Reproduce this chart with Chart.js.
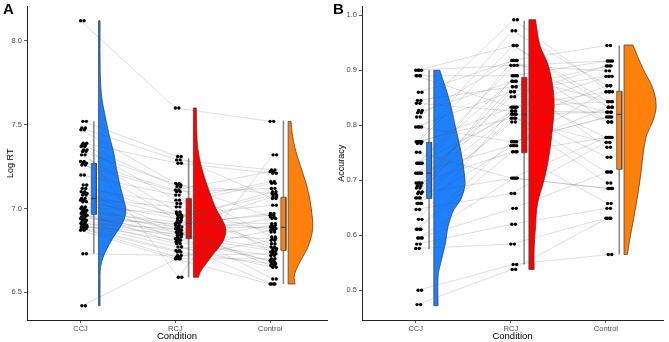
<!DOCTYPE html>
<html>
<head>
<meta charset="utf-8">
<script src="https://cdn.jsdelivr.net/npm/chart.js@4.4.1/dist/chart.umd.min.js"></script>
<style>
html, body { margin: 0; padding: 0; background: #fff; }
#wrap { position: relative; width: 669px; height: 342px; overflow: hidden; font-family: "Liberation Sans", Arial, sans-serif; }
canvas { position: absolute; top: 0; }
#cA { left: 0; }
#cB { left: 331px; }
.tag { position: absolute; top: 1px; font-weight: bold; font-size: 15px; line-height: 15px; }
</style>
</head>
<body>
<div id="wrap">
  <canvas id="cA" width="331" height="342"></canvas>
  <canvas id="cB" width="338" height="342"></canvas>
  <div class="tag" style="left:3px">A</div>
  <div class="tag" style="left:333px">B</div>
</div>
<script>
const conditions = ['CCJ', 'RCJ', 'Control']

// Panel A: log RT, one entry per participant (same order in every array)
const rtCCJ = [8.12,7.52,7.48,7.47,7.39,7.38,7.37,7.35,7.34,7.32,7.28,7.27,7.26,7.20,7.14,7.12,7.10,7.09,7.08,7.06,7.05,7.04,7.01,7.00,6.99,6.98,6.97,6.96,6.96,6.95,6.94,6.93,6.92,6.91,6.90,6.90,6.89,6.89,6.88,6.88,6.87,6.73,6.42]
const rtRCJ = [7.60,7.31,7.29,7.15,7.27,7.13,7.05,6.59,7.14,6.98,7.11,6.93,7.10,7.08,6.96,7.03,6.88,6.95,6.85,7.01,6.82,6.94,6.97,6.90,6.87,6.92,6.80,6.89,6.84,6.86,6.91,6.83,6.79,6.88,6.77,6.81,6.75,6.85,6.74,6.71,6.70,6.72,6.70]
const rtControl = [7.52,7.06,7.23,6.95,7.21,6.83,7.16,7.32,7.09,6.77,7.22,6.88,7.12,6.74,7.02,7.15,6.66,7.08,6.94,6.86,6.69,7.10,6.79,6.97,6.58,6.91,6.72,7.07,6.82,6.68,6.96,6.75,6.55,6.89,6.65,6.90,6.87,6.76,6.67,6.81,6.55,6.73,6.70]

// box summaries (CCJ, RCJ, Control)
const rtLow = [6.73, 6.59, 6.55]
const rtQ1 = [6.965, 6.82, 6.75]
const rtMed = [7.06, 6.91, 6.888]
const rtQ3 = [7.27, 7.06, 7.067]
const rtHigh = [7.52, 7.30, 7.525]

// half violin outlines: y levels and density widths (in category units)
const rtVioCCJy = [8.12,7.9,7.75,7.65,7.57,7.43,7.34,7.24,7.13,7.05,6.99,6.94,6.89,6.82,6.73,6.65,6.55,6.42]
const rtVioCCJw = [0.016,0.016,0.021,0.037,0.063,0.115,0.157,0.188,0.230,0.267,0.288,0.272,0.230,0.147,0.063,0.021,0.016,0.016]
const rtVioRCJy = [7.60,7.45,7.36,7.25,7.16,7.08,7.0,6.94,6.88,6.82,6.77,6.72,6.67,6.62,6.59]
const rtVioRCJw = [0.031,0.037,0.047,0.084,0.133,0.183,0.238,0.298,0.342,0.325,0.272,0.199,0.133,0.073,0.055]
const rtVioCony = [7.52,7.45,7.36,7.26,7.16,7.08,7.0,6.88,6.77,6.69,6.63,6.59,6.55]
const rtVioConw = [0.031,0.042,0.073,0.126,0.185,0.220,0.244,0.259,0.209,0.133,0.081,0.063,0.073]
const rtTicks = [6.5, 7.0, 7.5, 8.0]

// Panel B: accuracy
const accCCJ = [0.90,0.90,0.89,0.89,0.86,0.845,0.84,0.827,0.823,0.815,0.797,0.797,0.77,0.77,0.77,0.767,0.751,0.731,0.731,0.731,0.713,0.713,0.713,0.695,0.695,0.69,0.686,0.679,0.676,0.668,0.668,0.658,0.658,0.647,0.629,0.611,0.611,0.595,0.595,0.584,0.576,0.50,0.474]
const accRCJ = [0.909,0.945,0.890,0.833,0.918,0.870,0.826,0.992,0.880,0.918,0.861,0.770,0.972,0.813,0.945,0.833,0.704,0.909,0.820,0.880,0.763,0.918,0.826,0.852,0.752,0.870,0.820,0.890,0.704,0.806,0.861,0.763,0.813,0.676,0.833,0.752,0.770,0.704,0.649,0.620,0.584,0.547,0.538]
const accControl = [0.899,0.843,0.917,0.861,0.833,0.908,0.824,0.861,0.806,0.945,0.889,0.815,0.872,0.769,0.833,0.843,0.778,0.917,0.824,0.760,0.861,0.806,0.742,0.908,0.778,0.824,0.715,0.843,0.685,0.872,0.778,0.833,0.695,0.769,0.889,0.658,0.815,0.685,0.715,0.649,0.631,0.565,0.631]

const accLow = [0.575, 0.547, 0.565]
const accQ1 = [0.667, 0.75, 0.72]
const accMed = [0.713, 0.82, 0.82]
const accQ3 = [0.769, 0.887, 0.862]
const accHigh = [0.90, 0.99, 0.945]

const accVioCCJy = [0.90,0.843,0.795,0.748,0.706,0.688,0.664,0.646,0.616,0.586,0.55,0.526,0.472]
const accVioCCJw = [0.063,0.168,0.230,0.290,0.325,0.325,0.280,0.209,0.150,0.123,0.073,0.045,0.045]
const accVioRCJy = [0.992,0.946,0.91,0.867,0.831,0.795,0.754,0.706,0.658,0.616,0.574,0.538]
const accVioRCJw = [0.070,0.115,0.202,0.254,0.265,0.248,0.220,0.168,0.091,0.070,0.055,0.055]
const accVioCony = [0.946,0.903,0.867,0.835,0.808,0.784,0.754,0.718,0.676,0.634,0.592,0.565]
const accVioConw = [0.094,0.199,0.304,0.338,0.304,0.241,0.206,0.181,0.147,0.105,0.060,0.035]
const accTicks = [0.5, 0.6, 0.7, 0.8, 0.9, 1.0]

const fillColors = ['rgb(28,128,255)', 'rgb(255,0,0)', 'rgb(255,128,10)']
const FONT = '"Liberation Sans", Arial, sans-serif'

// small fixed horizontal spread for the dots
function jit(i) {
    return ((i * 7) % 10) / 10 * 0.035
}

function buildDatasets(vals, low, q1, med, q3, high, vios) {
    let ds = []
    let dots = [], dots2 = []
    vals.forEach(function (arr, g) {
        arr.forEach(function (v, i) {
            let x = g + 1 + jit(i)
            dots.push({x: x, y: v})
            dots2.push({x: x + 0.037, y: v})
        })
    })
    ds.push({data: dots, pointRadius: 1.7, backgroundColor: '#000', borderWidth: 0})
    ds.push({data: dots2, pointRadius: 1.7, backgroundColor: '#000', borderWidth: 0})

    // participant lines
    for (let i = 0; i < vals[0].length; i++) {
        ds.push({
            data: vals.map((arr, g) => ({x: g + 1 + jit(i), y: arr[i]})),
            showLine: true, pointRadius: 0,
            borderColor: 'rgba(80,80,80,0.27)', borderWidth: 0.7
        })
    }

    for (let g = 0; g < 3; g++) {
        let bx = g + 1 + 0.14, hw = 0.027
        // median
        ds.push({
            data: [{x: bx - hw, y: med[g]}, {x: bx + hw, y: med[g]}],
            showLine: true, pointRadius: 0, borderColor: '#333', borderWidth: 1
        })
        // box
        ds.push({
            data: [{x: bx - hw, y: q1[g]}, {x: bx - hw, y: q3[g]}, {x: bx + hw, y: q3[g]}, {x: bx + hw, y: q1[g]}, {x: bx - hw, y: q1[g]}],
            showLine: true, pointRadius: 0, fill: 'shape',
            backgroundColor: fillColors[g], borderColor: '#444', borderWidth: 0.7
        })
        // whisker
        ds.push({
            data: [{x: bx, y: low[g]}, {x: bx, y: high[g]}],
            showLine: true, pointRadius: 0, borderColor: '#8c8c8c', borderWidth: 1.6
        })
    }

    // half violins; corner points doubled so the smoothing keeps them sharp
    vios.forEach(function (v, g) {
        let base = g + 1 + 0.19
        let n = v.y.length
        let top = {x: base, y: v.y[0]}
        let bottom = {x: base, y: v.y[n - 1]}
        let pts = [top, top]
        v.y.forEach((y, k) => {
            let p = {x: base + v.w[k], y: y}
            pts.push(p)
            if (k === 0 || k === n - 1) pts.push(p)
        })
        pts.push(bottom, bottom, top, top)
        ds.push({
            data: pts, showLine: true, pointRadius: 0, fill: 'shape', tension: 0.35,
            backgroundColor: fillColors[g], borderColor: '#333', borderWidth: 0.7
        })
    })
    return ds
}

function makePanel(id, ds, yMin, yMax, yTicks, yTitle, yWidth, padRight) {
    let ctx = document.getElementById(id).getContext('2d')
    return new Chart(ctx, {
        type: 'scatter',
        data: {datasets: ds},
        options: {
            responsive: false,
            animation: false,
            events: [],
            layout: {padding: {left: 0, right: padRight, top: 3, bottom: 0}},
            plugins: {legend: {display: false}, tooltip: {enabled: false}},
            scales: {
                x: {
                    type: 'linear', min: 0.435, max: 3.6,
                    afterBuildTicks: s => { s.ticks = conditions.map((c, i) => ({value: i + 1})) },
                    afterFit: s => { s.height = 22 },
                    ticks: {
                        callback: v => conditions[v - 1],
                        color: '#4d4d4d', font: {size: 7.5, family: FONT}, padding: 1, maxRotation: 0
                    },
                    grid: {drawOnChartArea: false, tickLength: 3, color: '#333', tickWidth: 0.8},
                    border: {color: '#222', width: 1},
                    title: {display: true, text: 'Condition', color: '#000', font: {size: 9.5, family: FONT}, padding: {top: 0, bottom: 0}}
                },
                y: {
                    type: 'linear', min: yMin, max: yMax,
                    afterBuildTicks: s => { s.ticks = yTicks.map(v => ({value: v})) },
                    afterFit: s => { s.width = yWidth },
                    ticks: {
                        callback: v => v.toFixed(1),
                        color: '#4d4d4d', font: {size: 7.5, family: FONT}, padding: 2
                    },
                    grid: {drawOnChartArea: false, tickLength: 3, color: '#333', tickWidth: 0.8},
                    border: {color: '#222', width: 1},
                    title: {display: true, text: yTitle, color: '#000', font: {size: 9, family: FONT}, padding: {top: 5, bottom: 0}}
                }
            }
        }
    })
}

let dsA = buildDatasets([rtCCJ, rtRCJ, rtControl], rtLow, rtQ1, rtMed, rtQ3, rtHigh, [
    {y: rtVioCCJy, w: rtVioCCJw}, {y: rtVioRCJy, w: rtVioRCJw}, {y: rtVioCony, w: rtVioConw}
])
let dsB = buildDatasets([accCCJ, accRCJ, accControl], accLow, accQ1, accMed, accQ3, accHigh, [
    {y: accVioCCJy, w: accVioCCJw}, {y: accVioRCJy, w: accVioRCJw}, {y: accVioCony, w: accVioConw}
])

makePanel('cA', dsA, 6.335, 8.205, rtTicks, 'Log RT', 27, 1)
makePanel('cB', dsB, 0.446, 1.016, accTicks, 'Accuracy', 31, 6)
</script>
</body>
</html>
